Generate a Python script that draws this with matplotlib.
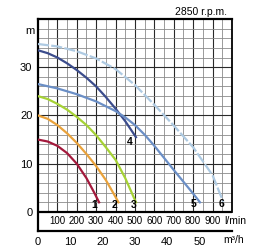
import matplotlib
matplotlib.use('Agg')
import matplotlib.pyplot as plt
import numpy as np

plt.rcParams['font.family'] = ['Liberation Sans', 'DejaVu Sans']

# pump curves: flow (l/min) vs head (m)
flow_1 = [0, 50, 100, 150, 200, 250, 290, 315]
head_1 = [15.0, 14.6, 13.7, 12.2, 10.0, 7.0, 4.0, 2.0]
flow_2 = [0, 50, 100, 150, 200, 250, 300, 350, 390, 415]
head_2 = [20.0, 19.3, 18.0, 16.3, 14.3, 12.0, 9.5, 6.6, 3.8, 2.0]
flow_3 = [0, 50, 100, 150, 200, 250, 300, 350, 400, 450, 505]
head_3 = [24.0, 23.4, 22.4, 21.2, 19.7, 18.0, 15.9, 13.4, 10.8, 7.0, 2.0]
flow_4 = [0, 50, 100, 150, 200, 250, 300, 350, 400, 450, 505]
head_4 = [33.5, 32.9, 32.0, 30.8, 29.4, 27.8, 26.0, 23.8, 21.4, 18.8, 15.5]
flow_5 = [0, 100, 200, 300, 400, 450, 500, 550, 600, 700, 800, 835]
head_5 = [26.5, 25.6, 24.4, 22.9, 20.9, 19.6, 18.0, 16.0, 13.7, 8.7, 3.8, 2.0]
flow_6 = [0, 100, 200, 300, 400, 500, 600, 700, 800, 900, 955]
head_6 = [34.8, 34.3, 33.3, 31.8, 29.6, 26.3, 22.2, 17.9, 13.4, 7.6, 2.1]

curve_names = ['1', '2', '3', '4', '5', '6']
curve_colors = ['#a3193c', '#e9a23b', '#a6d235', '#3b4c8c', '#6b8fc6', '#aecae2']
label_pos = [(292, 1.4), (392, 1.4), (495, 1.4), (473, 14.6), (801, 1.6), (947, 1.6)]

lmin_ticks = [100, 200, 300, 400, 500, 600, 700, 800, 900]
m3h_ticks = [0, 10, 20, 30, 40, 50]
head_ticks = [0, 10, 20, 30]

fig = plt.figure(figsize=(2.7, 2.5), dpi=100)
ax = fig.add_axes([0.1407, 0.0748, 0.7185, 0.8496])
ax.set_xlim(0, 1000)
ax.set_ylim(-4, 40)

# grid only in the chart area (0..40 m)
ax.vlines(np.arange(50, 1000, 100), 0, 40, color='#8a8a8a', lw=0.6, zorder=1)
ax.vlines(np.arange(100, 1000, 100), 0, 40, color='#2a2a2a', lw=0.8, zorder=1)
ax.hlines([y for y in range(2, 40, 2) if y % 10], 0, 1000, color='#8a8a8a', lw=0.6, zorder=1)
ax.hlines([10, 20, 30], 0, 1000, color='#2a2a2a', lw=0.8, zorder=1)
ax.axhline(0, color='black', lw=1.6, zorder=2)

for s in ['left', 'top', 'bottom']:
    ax.spines[s].set_linewidth(1.6)
ax.spines['right'].set_linewidth(1.3)
ax.spines['right'].set_bounds(0, 40)

curves = [(flow_1, head_1), (flow_2, head_2), (flow_3, head_3),
          (flow_4, head_4), (flow_5, head_5), (flow_6, head_6)]
for i, (f, h) in enumerate(curves):
    if i == 5:
        ax.plot(f, h, color=curve_colors[i], lw=1.6, dashes=(5, 1), zorder=3)
    else:
        ax.plot(f, h, color=curve_colors[i], lw=1.6, zorder=3)
    ax.text(label_pos[i][0], label_pos[i][1], curve_names[i], fontsize=7.5,
            fontweight='bold', ha='center', va='center', zorder=4)

ax.set_yticks(head_ticks)
ax.set_yticklabels([str(v) for v in head_ticks], fontsize=8)
ax.set_xticks([m * 1000 / 60 for m in m3h_ticks])
ax.set_xticklabels([str(v) for v in m3h_ticks], fontsize=8)
ax.tick_params(length=0, pad=4)

for v in lmin_ticks:
    ax.text(v, -1.9, str(v), fontsize=7, ha='center', va='center')
ax.text(958, -1.9, 'l/min', fontsize=7.5, ha='left', va='center')
ax.text(955, -5.8, 'm³/h', fontsize=7.5, ha='left', va='center')
ax.text(-40, 37.4, 'm', fontsize=8, ha='center', va='center')
ax.text(975, 41.4, '2850 r.p.m.', fontsize=7.5, ha='right', va='center')

fig.savefig('out.png', dpi=100)
